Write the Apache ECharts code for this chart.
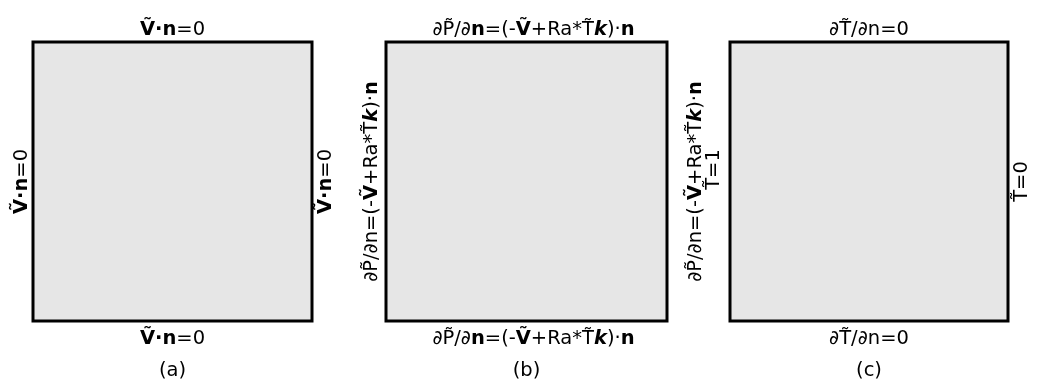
<!DOCTYPE html>
<html>
<head>
<meta charset="utf-8">
<script src="https://cdn.jsdelivr.net/npm/echarts@6/dist/echarts.min.js"></script>
<style>
  html, body { margin: 0; padding: 0; background: #fff; }
  #chart { width: 1037px; height: 387px; }
</style>
</head>
<body>
<div id="chart"></div>
<script>
// boundary conditions for each panel (rich text tokens: b = bold, k = bold italic)
var panels = ['(a)', '(b)', '(c)']
var topLabels = [
  '{b|V\u0303·n}=0',
  '\u2202P\u0303/\u2202{b|n}=(-{b|V\u0303}+Ra*T\u0303{k|k})·{b|n}',
  '\u2202T\u0303/\u2202n=0'
]
var bottomLabels = [
  '{b|V\u0303·n}=0',
  '\u2202P\u0303/\u2202{b|n}=(-{b|V\u0303}+Ra*T\u0303{k|k})·{b|n}',
  '\u2202T\u0303/\u2202n=0'
]
var leftLabels = [
  '{b|V\u0303·n}=0',
  '\u2202P\u0303/\u2202n=(-{b|V\u0303}+Ra*T\u0303{k|k})·{b|n}',
  '\u2202P\u0303/\u2202n=(-{b|V\u0303}+Ra*T\u0303{k|k})·{b|n}\n{t|T\u0303=1}'
]
var rightLabels = [
  '{b|V\u0303·n}=0',
  '',
  'T\u0303=0'
]

var chart = echarts.init(document.getElementById('chart'))

var FONT = 'DejaVu Sans'
var SIZE = 19.5
var rich = {
  b: { fontFamily: FONT, fontSize: SIZE, fontWeight: 'bold', color: '#000' },
  k: { fontFamily: FONT, fontSize: SIZE, fontWeight: 'bold', fontStyle: 'italic', color: '#000' },
  t: { fontFamily: FONT, fontSize: SIZE, color: '#000', padding: [0, 0, 0, 24] }
}

// box layout (px)
var boxLeft = [33, 386, 730]
var boxWidth = [279, 281, 278]
var boxTop = 42
var boxHeight = 279
var topShift = [0, 14, 0]
var leftLineHeight = [16, 16, 18]
var gaps = {
  top: [2, 2, 2],
  bottom: [8, 8, 8],
  left: [3, 6, 7],
  right: [6, 6, 6]
}

function nameStyle(extra) {
  return Object.assign({
    fontFamily: FONT,
    fontSize: SIZE,
    lineHeight: 16,
    color: '#000',
    rich: rich
  }, extra || {})
}

function axisBase(i) {
  return {
    type: 'value',
    gridIndex: i,
    min: 0,
    max: 1,
    axisLine: { show: false },
    axisTick: { show: false },
    axisLabel: { show: false },
    splitLine: { show: false },
    nameLocation: 'middle'
  }
}

var grid = []
var xAxis = []
var yAxis = []
panels.forEach(function (p, i) {
  grid.push({
    show: true,
    left: boxLeft[i],
    top: boxTop,
    width: boxWidth[i],
    height: boxHeight,
    backgroundColor: '#e6e6e6',
    borderColor: '#000',
    borderWidth: 3
  })
  xAxis.push(Object.assign(axisBase(i), {
    position: 'top',
    name: topLabels[i],
    nameGap: gaps.top[i],
    nameTextStyle: nameStyle({ lineHeight: 20, padding: [0, 0, 0, topShift[i]] })
  }))
  xAxis.push(Object.assign(axisBase(i), {
    position: 'bottom',
    name: bottomLabels[i],
    nameGap: gaps.bottom[i],
    nameTextStyle: nameStyle({ lineHeight: 20, padding: [0, 0, 0, topShift[i]] })
  }))
  xAxis.push(Object.assign(axisBase(i), {
    position: 'bottom',
    name: p,
    nameGap: 40,
    nameTextStyle: nameStyle({ lineHeight: 20 })
  }))
  yAxis.push(Object.assign(axisBase(i), {
    position: 'left',
    name: leftLabels[i],
    nameRotate: 90,
    nameGap: gaps.left[i],
    nameTextStyle: nameStyle({ lineHeight: leftLineHeight[i] })
  }))
  yAxis.push(Object.assign(axisBase(i), {
    position: 'right',
    name: rightLabels[i],
    nameRotate: 90,
    nameGap: gaps.right[i],
    nameTextStyle: nameStyle()
  }))
})

chart.setOption({
  animation: false,
  backgroundColor: '#fff',
  grid: grid,
  xAxis: xAxis,
  yAxis: yAxis,
  series: []
})
</script>
</body>
</html>
